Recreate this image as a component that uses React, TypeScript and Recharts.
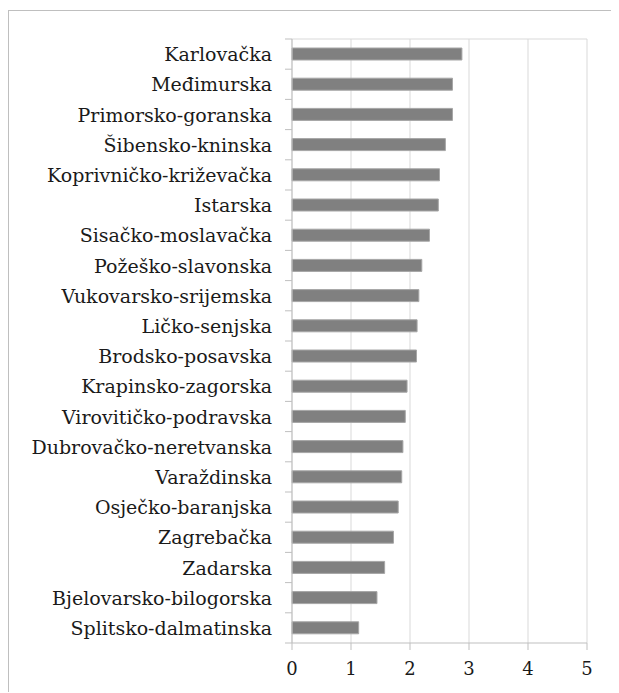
import React from 'react';
import { BarChart, Bar, XAxis, YAxis, CartesianGrid } from 'recharts';

const counties = [
  'Karlovačka',
  'Međimurska',
  'Primorsko-goranska',
  'Šibensko-kninska',
  'Koprivničko-križevačka',
  'Istarska',
  'Sisačko-moslavačka',
  'Požeško-slavonska',
  'Vukovarsko-srijemska',
  'Ličko-senjska',
  'Brodsko-posavska',
  'Krapinsko-zagorska',
  'Virovitičko-podravska',
  'Dubrovačko-neretvanska',
  'Varaždinska',
  'Osječko-baranjska',
  'Zagrebačka',
  'Zadarska',
  'Bjelovarsko-bilogorska',
  'Splitsko-dalmatinska',
];

const values = [
  2.88, 2.72, 2.72, 2.6, 2.5, 2.48, 2.33, 2.2, 2.15, 2.12,
  2.11, 1.95, 1.92, 1.88, 1.86, 1.8, 1.72, 1.57, 1.44, 1.13,
];

const xTicks = [0, 1, 2, 3, 4, 5];

const data = counties.map((name, i) => ({ name, value: values[i] }));

const CHART_W = 610;
const CHART_H = 682;
const MARGIN = { top: 28, right: 32, bottom: 10, left: 0 };
const X_AXIS_H = 40;
const PLOT_H = CHART_H - MARGIN.top - MARGIN.bottom - X_AXIS_H;
const HALF_BAND = PLOT_H / counties.length / 2;

const FONT = '"DejaVu Serif", serif';
const AXIS = '#bfbfbf';
const GRID = '#d9d9d9';

const YTick = (props: any) => {
  const { x, y, payload, index } = props;
  const axisX = x + 20;
  return (
    <g>
      <text
        x={x}
        y={y}
        textAnchor="end"
        dominantBaseline="central"
        fontFamily={FONT}
        fontSize={19}
        fill="#1a1a1a"
      >
        {payload.value}
      </text>
      <line x1={axisX - 7} x2={axisX} y1={y + HALF_BAND} y2={y + HALF_BAND} stroke={AXIS} />
      {index === 0 && (
        <line x1={axisX - 7} x2={axisX} y1={y - HALF_BAND} y2={y - HALF_BAND} stroke={AXIS} />
      )}
    </g>
  );
};

export default function App() {
  return (
    <div
      style={{
        position: 'relative',
        top: 2,
        width: CHART_W + 1,
        height: CHART_H + 1,
        borderTop: `1px solid ${AXIS}`,
        borderLeft: `1px solid ${AXIS}`,
        background: '#fff',
      }}
    >
      <BarChart
        width={CHART_W}
        height={CHART_H}
        data={data}
        layout="vertical"
        margin={MARGIN}
        barCategoryGap={0}
      >
        <CartesianGrid
          stroke={GRID}
          horizontalCoordinatesGenerator={(p: any) => [p.offset.top]}
          vertical
        />
        <XAxis
          type="number"
          domain={[0, 5]}
          ticks={xTicks}
          interval={0}
          height={X_AXIS_H}
          tickSize={7}
          tickMargin={12}
          axisLine={{ stroke: AXIS }}
          tickLine={{ stroke: AXIS }}
          tick={{ fontFamily: FONT, fontSize: 18, fill: '#1a1a1a' }}
        />
        <YAxis
          type="category"
          dataKey="name"
          width={283}
          interval={0}
          tickLine={false}
          tickSize={0}
          tickMargin={20}
          axisLine={{ stroke: AXIS }}
          tick={<YTick />}
        />
        <Bar
          dataKey="value"
          fill="#808080"
          stroke="#a6a6a6"
          strokeWidth={1}
          barSize={12}
          isAnimationActive={false}
        />
      </BarChart>
    </div>
  );
}
